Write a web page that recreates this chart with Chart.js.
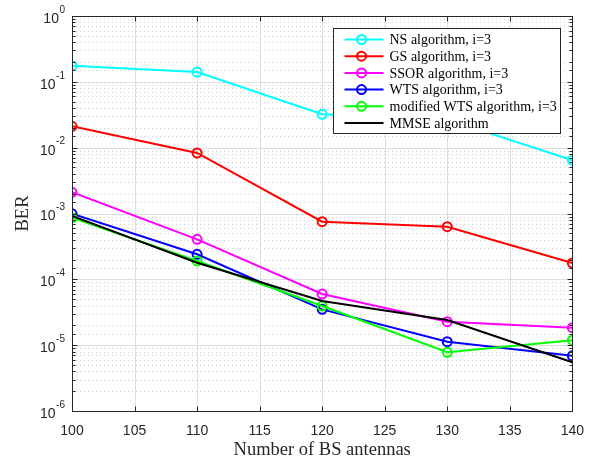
<!DOCTYPE html>
<html>
<head>
<meta charset="utf-8">
<script src="https://cdn.jsdelivr.net/npm/chart.js@4/dist/chart.umd.min.js"></script>
<style>
  html, body { margin: 0; padding: 0; background: #fff; }
  #wrap { width: 596px; height: 463px; }
</style>
</head>
<body>
<div id="wrap"><canvas id="ber"></canvas></div>
<script>
// BS antenna counts on the x axis
const antennas = [100, 110, 120, 130, 140];

// BER per detector
const berNS   = [0.176, 0.141, 0.0321, 0.0269, 0.00643];
const berGS   = [0.0211, 0.0083, 7.5e-4, 6.3e-4, 1.77e-4];
const berSSOR = [2.1e-3, 4.05e-4, 5.98e-5, 2.27e-5, 1.84e-5];
const berWTS  = [9.9e-4, 2.4e-4, 3.5e-5, 1.13e-5, 6.9e-6];
const berMWTS = [8.6e-4, 1.9e-4, 3.93e-5, 7.8e-6, 1.19e-5];
const berMMSE = [9.2e-4, 1.79e-4, 4.7e-5, 2.41e-5, 5.5e-6];

const seriesNames = [
  'NS algorithm, i=3',
  'GS algorithm, i=3',
  'SSOR algorithm, i=3',
  'WTS algorithm, i=3',
  'modified WTS algorithm, i=3',
  'MMSE algorithm'
];
const seriesValues = [berNS, berGS, berSSOR, berWTS, berMWTS, berMMSE];
const seriesColors = ['#00ffff', '#ff0000', '#ff00ff', '#0000ff', '#00ff00', '#000000'];
const seriesMarkers = [true, true, true, true, true, false];

const xTicks = [100, 105, 110, 115, 120, 125, 130, 135, 140];

const AXIS = '#262626';

const datasets = seriesNames.map((name, i) => ({
  label: name,
  data: antennas.map((x, j) => ({ x: x, y: seriesValues[i][j] })),
  borderColor: seriesColors[i],
  borderWidth: 2,
  pointRadius: seriesMarkers[i] ? 4.5 : 0,
  pointBorderWidth: 2,
  pointBackgroundColor: 'rgba(0,0,0,0)',
  pointBorderColor: seriesColors[i],
  tension: 0,
  order: seriesNames.length - i
}));

function isDecade(v) {
  const l = Math.log10(v);
  return Math.abs(l - Math.round(l)) < 1e-9;
}

// grid, box, inward ticks, power-of-ten labels and the legend box
const matlabAxes = {
  id: 'matlabAxes',
  beforeDatasetsDraw(chart) {
    const { ctx, chartArea: a, scales: { x, y } } = chart;
    ctx.save();
    ctx.lineWidth = 1;
    // minor (dotted) then major (solid) horizontal lines
    y.ticks.forEach(t => {
      const py = Math.round(y.getPixelForValue(t.value)) + 0.5;
      if (isDecade(t.value)) return;
      ctx.strokeStyle = '#cfcfcf';
      ctx.setLineDash([1, 3]);
      ctx.beginPath(); ctx.moveTo(a.left, py); ctx.lineTo(a.right, py); ctx.stroke();
    });
    ctx.setLineDash([]);
    ctx.strokeStyle = '#dedede';
    y.ticks.forEach(t => {
      if (!isDecade(t.value)) return;
      const py = Math.round(y.getPixelForValue(t.value)) + 0.5;
      ctx.beginPath(); ctx.moveTo(a.left, py); ctx.lineTo(a.right, py); ctx.stroke();
    });
    x.ticks.forEach(t => {
      const px = Math.round(x.getPixelForValue(t.value)) + 0.5;
      ctx.beginPath(); ctx.moveTo(px, a.top); ctx.lineTo(px, a.bottom); ctx.stroke();
    });
    ctx.restore();
  },
  afterDatasetsDraw(chart) {
    const { ctx, chartArea: a, scales: { x, y } } = chart;
    ctx.save();
    ctx.strokeStyle = AXIS;
    ctx.lineWidth = 1;
    const L = Math.round(a.left) + 0.5, R = Math.round(a.right) + 0.5;
    const T = Math.round(a.top) + 0.5, B = Math.round(a.bottom) + 0.5;
    ctx.strokeRect(L, T, R - L, B - T);

    ctx.beginPath();
    x.ticks.forEach(t => {
      const px = Math.round(x.getPixelForValue(t.value)) + 0.5;
      ctx.moveTo(px, B); ctx.lineTo(px, B - 5);
      ctx.moveTo(px, T); ctx.lineTo(px, T + 5);
    });
    y.ticks.forEach(t => {
      const py = Math.round(y.getPixelForValue(t.value)) + 0.5;
      const len = isDecade(t.value) ? 5 : 3;
      ctx.moveTo(L, py); ctx.lineTo(L + len, py);
      ctx.moveTo(R, py); ctx.lineTo(R - len, py);
    });
    ctx.stroke();

    // 10^n labels on the log axis
    ctx.fillStyle = AXIS;
    ctx.textBaseline = 'middle';
    y.ticks.forEach(t => {
      if (!isDecade(t.value)) return;
      const py = y.getPixelForValue(t.value);
      const exp = String(Math.round(Math.log10(t.value)));
      ctx.font = '10px "Liberation Sans", Arial, sans-serif';
      const ew = ctx.measureText(exp).width;
      const ex = a.left - 7 - ew;
      ctx.textAlign = 'left';
      ctx.fillText(exp, ex, py - 6);
      ctx.font = '14px "Liberation Sans", Arial, sans-serif';
      ctx.textAlign = 'right';
      ctx.fillText('10', ex - 0.5, py + 3);
    });

    // legend
    const w = 227, h = 105;
    const lx = Math.round(a.right - 12 - w) + 0.5, ly = Math.round(a.top + 12) + 0.5;
    ctx.fillStyle = '#ffffff';
    ctx.fillRect(lx, ly, w, h);
    ctx.strokeStyle = AXIS;
    ctx.strokeRect(lx, ly, w, h);
    ctx.font = '14px "Liberation Serif", "Times New Roman", serif';
    ctx.textAlign = 'left';
    ctx.textBaseline = 'middle';
    chart.data.datasets.forEach((ds, i) => {
      const cy = ly + 11 + i * 16.7;
      ctx.strokeStyle = ds.borderColor;
      ctx.lineWidth = 2;
      ctx.beginPath(); ctx.moveTo(lx + 11, cy); ctx.lineTo(lx + 50, cy); ctx.stroke();
      if (ds.pointRadius > 0) {
        ctx.beginPath(); ctx.arc(lx + 28, cy, 4.5, 0, Math.PI * 2); ctx.stroke();
      }
      ctx.fillStyle = '#000';
      ctx.fillText(ds.label, lx + 56, cy + 1);
    });
    ctx.restore();
  }
};

new Chart(document.getElementById('ber'), {
  type: 'line',
  data: { datasets: datasets },
  options: {
    responsive: true,
    maintainAspectRatio: false,
    animation: false,
    layout: { padding: { left: 0, top: 16, right: 22, bottom: 0 } },
    plugins: { legend: { display: false }, tooltip: { enabled: false } },
    scales: {
      x: {
        type: 'linear',
        min: 100,
        max: 140,
        afterBuildTicks(scale) { scale.ticks = xTicks.map(v => ({ value: v })); },
        afterFit(scale) { scale.height = 52; },
        grid: { display: false, drawTicks: false },
        border: { display: false },
        ticks: {
          padding: 12,
          color: AXIS,
          font: { family: '"Liberation Sans", Arial, sans-serif', size: 14 }
        },
        title: {
          display: true,
          text: 'Number of BS antennas',
          color: AXIS,
          padding: { top: 0, bottom: 2 },
          font: { family: '"Liberation Serif", "Times New Roman", serif', size: 18.5 }
        }
      },
      y: {
        type: 'logarithmic',
        min: 1e-6,
        max: 1,
        afterFit(scale) { scale.width = 72; },
        grid: { display: false, drawTicks: false },
        border: { display: false },
        ticks: { display: false },
        title: {
          display: true,
          text: 'BER',
          color: AXIS,
          padding: { top: 12, bottom: 0 },
          font: { family: '"Liberation Serif", "Times New Roman", serif', size: 18.5 }
        }
      }
    }
  },
  plugins: [matlabAxes]
});
</script>
</body>
</html>
